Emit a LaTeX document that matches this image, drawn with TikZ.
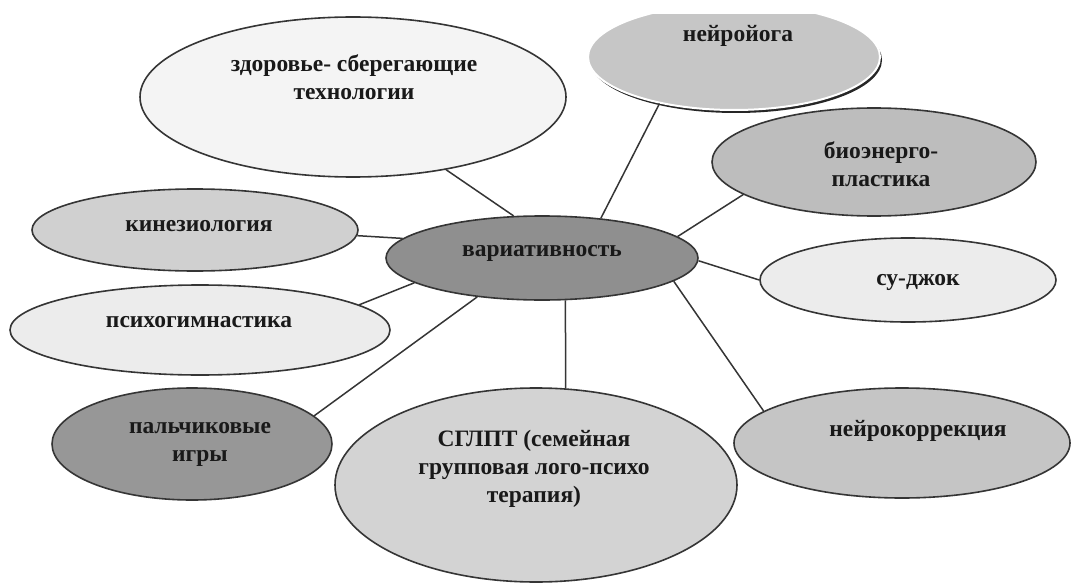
\documentclass[tikz,border=0pt]{standalone}
\usepackage{fontspec}
\setmainfont{Liberation Serif}
\usetikzlibrary{shapes.geometric}
\definecolor{czd}{HTML}{F4F4F4}
\definecolor{cyoga}{HTML}{C6C6C6}
\definecolor{cbio}{HTML}{BDBDBD}
\definecolor{ckin}{HTML}{D0D0D0}
\definecolor{cmid}{HTML}{8F8F8F}
\definecolor{csj}{HTML}{ECECEC}
\definecolor{cpsy}{HTML}{ECECEC}
\definecolor{cpal}{HTML}{979797}
\definecolor{csg}{HTML}{D3D3D3}
\definecolor{cnk}{HTML}{C5C5C5}
\definecolor{cline}{HTML}{353535}
\begin{document}
\begin{tikzpicture}[x=1pt,y=-1pt,
  bub/.style={ellipse, draw=cline, line width=1.6pt, inner sep=0pt},
  lab/.style={font=\fontsize{23.5}{28}\selectfont\bfseries, align=center, text=black!90, inner sep=0pt},
  link/.style={draw=cline, line width=1.5pt}]
\useasboundingbox[fill=white] (0,0) rectangle (1084,583);
\begin{scope}
\clip (0,15) rectangle (1084,583);
% ellipses
\node[bub, fill=czd, minimum width=426pt, minimum height=160pt] (zd) at (353,97) {};
\fill[black!85] (736,60) ellipse [x radius=146pt, y radius=53pt];
\node[bub, draw=white, line width=2pt, fill=cyoga, minimum width=292pt, minimum height=106pt] (yoga) at (734,57) {};
\node[bub, fill=cbio, minimum width=324pt, minimum height=108pt] (bio) at (874,162) {};
\node[bub, fill=ckin, minimum width=326pt, minimum height=82pt] (kin) at (195,230) {};
\node[bub, fill=cmid, minimum width=312pt, minimum height=84pt] (c) at (542,258) {};
\node[bub, fill=csj, minimum width=296pt, minimum height=84pt] (sj) at (908,280) {};
\node[bub, fill=cpsy, minimum width=380pt, minimum height=90pt] (psy) at (200,330) {};
\node[bub, fill=cpal, minimum width=280pt, minimum height=112pt] (pal) at (192,444) {};
\node[bub, fill=csg, minimum width=402pt, minimum height=194pt] (sg) at (536,485) {};
\node[bub, fill=cnk, minimum width=336pt, minimum height=110pt] (nk) at (902,443) {};
% texts
\node[lab] (tzd) at (354,77) {здоровье- сберегающие\\технологии};
\node[lab] (tyoga) at (738,36) {нейройога};
\node[lab] (tbio) at (881,164) {биоэнерго-\\пластика};
\node[lab] (tkin) at (199,226) {кинезиология};
\node[lab] (tc) at (542,253) {вариативность};
\node[lab] (tsj) at (918,282) {су-джок};
\node[lab] (tpsy) at (199,322) {психогимнастика};
\node[lab] (tpal) at (200,444) {пальчиковые\\игры};
\node[lab] (tsg) at (534,469) {СГЛПТ (семейная\\групповая лого-психо\\терапия)};
\node[lab] (tnk) at (918,431) {нейрокоррекция};
% links
\draw[link] (c.124) -- (zd.-38);
\draw[link] (c.34) -- (yoga.-148);
\draw[link] (c.9.7) -- (bio.194.5);
\draw[link] (c.-1.5) -- (sj.180);
\draw[link] (c.-10.5) -- (nk.167);
\draw[link] (c.-61) -- (sg.73.4);
\draw[link] (c.211.5) -- (pal.13.3);
\draw[link] (c.191) -- (psy.9.6);
\draw[link] (c.172) -- (kin.-2.9);
\end{scope}
\end{tikzpicture}
\end{document}
